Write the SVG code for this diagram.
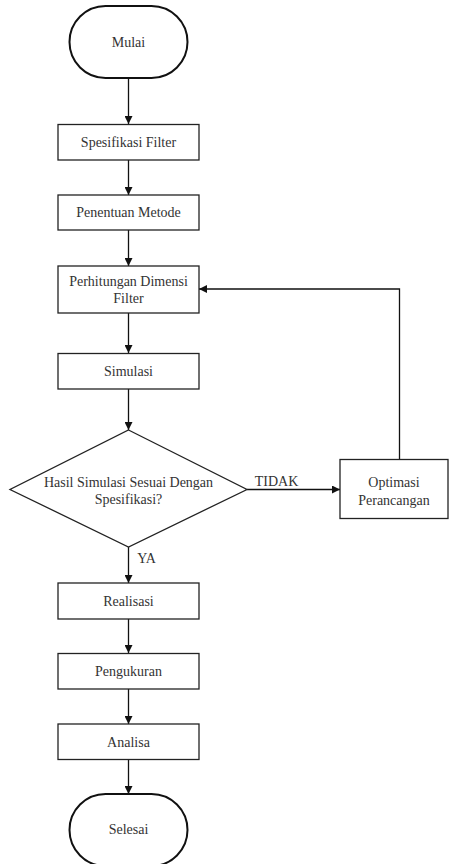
<svg xmlns="http://www.w3.org/2000/svg" width="449" height="864" viewBox="0 0 449 864">
<style>
.box{fill:#fff;stroke:#222;stroke-width:1.3}
.term{fill:#fff;stroke:#111;stroke-width:2}
.lbl{font-size:14px;fill:#333;text-anchor:middle;dominant-baseline:central}
.edge{fill:none;stroke:#111;stroke-width:1.3;marker-end:url(#arr)}
</style>
<defs>
<marker id="arr" viewBox="0 0 10 10" refX="10" refY="5" markerWidth="8" markerHeight="8" markerUnits="userSpaceOnUse" orient="auto">
<path d="M0,0 L10,5 L0,10 z" fill="#111"/>
</marker>
</defs>
<rect width="449" height="864" fill="#fff"/>
<g font-family="'Times New Roman', 'Liberation Serif', Times, serif">
<g id="connectors">
<line class="edge" x1="128.5" y1="78" x2="128.5" y2="124"/>
<line class="edge" x1="128.5" y1="160" x2="128.5" y2="195"/>
<line class="edge" x1="128.5" y1="230" x2="128.5" y2="266"/>
<line class="edge" x1="128.5" y1="313" x2="128.5" y2="353"/>
<line class="edge" x1="128.5" y1="389" x2="128.5" y2="430"/>
<line class="edge" x1="247" y1="489.5" x2="340" y2="489.5"/>
<polyline class="edge" points="399.5,459 399.5,289 199,289"/>
<line class="edge" x1="128.5" y1="547" x2="128.5" y2="583"/>
<line class="edge" x1="128.5" y1="619" x2="128.5" y2="653"/>
<line class="edge" x1="128.5" y1="689" x2="128.5" y2="724"/>
<line class="edge" x1="128.5" y1="759" x2="128.5" y2="794"/>
<text class="lbl" x="276.5" y="481">TIDAK</text>
<text class="lbl" x="146.5" y="558">YA</text>
</g>
<g id="mulai"><rect class="term" x="69.5" y="6" width="118" height="72" rx="36"/><text class="lbl" x="128.5" y="42">Mulai</text></g>
<g id="spesifikasi"><rect class="box" x="58" y="124.5" width="141" height="35.5"/><text class="lbl" x="128.5" y="142.5">Spesifikasi Filter</text></g>
<g id="penentuan"><rect class="box" x="58" y="195" width="141" height="35"/><text class="lbl" x="128.5" y="212.5">Penentuan Metode</text></g>
<g id="perhitungan"><rect class="box" x="58" y="266" width="141" height="47"/><text class="lbl" x="128.5" y="281">Perhitungan Dimensi</text><text class="lbl" x="128.5" y="298">Filter</text></g>
<g id="simulasi"><rect class="box" x="58" y="353.5" width="141" height="35.5"/><text class="lbl" x="128.5" y="371.5">Simulasi</text></g>
<g id="keputusan"><polygon class="box" points="128.5,430 247,489.5 128.5,547 10,489.5"/><text class="lbl" x="128.5" y="482.5">Hasil Simulasi Sesuai Dengan</text><text class="lbl" x="128.5" y="499.5">Spesifikasi?</text></g>
<g id="optimasi"><rect class="box" x="340" y="459.5" width="108" height="59"/><text class="lbl" x="394" y="482.5">Optimasi</text><text class="lbl" x="394" y="500">Perancangan</text></g>
<g id="realisasi"><rect class="box" x="58" y="583" width="141" height="36"/><text class="lbl" x="128.5" y="601">Realisasi</text></g>
<g id="pengukuran"><rect class="box" x="58" y="653.5" width="141" height="35.5"/><text class="lbl" x="128.5" y="671.5">Pengukuran</text></g>
<g id="analisa"><rect class="box" x="58" y="724" width="141" height="35.5"/><text class="lbl" x="128.5" y="742">Analisa</text></g>
<g id="selesai"><rect class="term" x="69.5" y="794" width="118" height="72" rx="36"/><text class="lbl" x="128.5" y="829">Selesai</text></g>
</g>
</svg>
